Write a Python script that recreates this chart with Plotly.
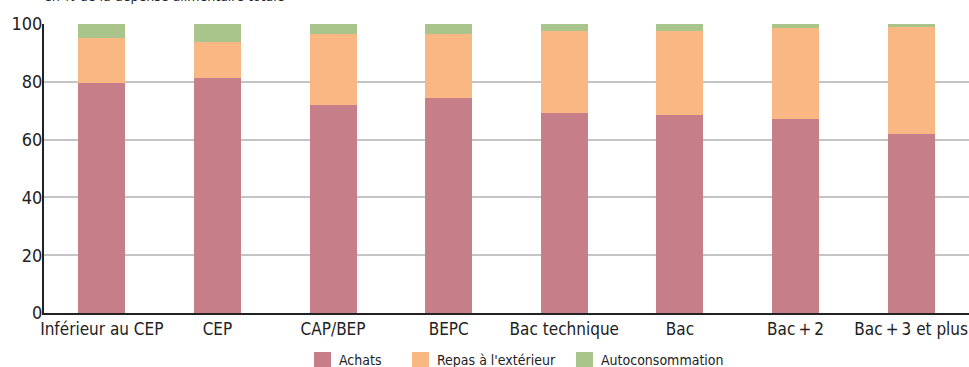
import plotly.graph_objects as go

categories = ["Inférieur au CEP", "CEP", "CAP/BEP", "BEPC", "Bac technique",
              "Bac", "Bac+2", "Bac+3 et plus"]
tick_labels = ["Inférieur au CEP", "CEP", "CAP/BEP", "BEPC", "Bac technique",
               "Bac", "Bac\u2009+\u20092", "Bac\u2009+\u20093 et plus"]
achats = [79.7, 81.4, 72.1, 74.3, 69.3, 68.6, 67.3, 62.1]
repas = [15.6, 12.5, 24.5, 22.3, 28.4, 29.1, 31.2, 37.0]
autoconso = [4.7, 6.1, 3.4, 3.4, 2.3, 2.3, 1.5, 0.9]

series_names = ["Achats", "Repas à l'extérieur", "Autoconsommation"]
series_colors = ["#c67f88", "#f9b784", "#a9c58b"]

FONT = "DejaVu Sans Condensed, Liberation Sans, sans-serif"
W, H = 969, 367
ML, MR, MT, MB = 44, 0, 24, 54
PW, PH = W - ML - MR, H - MT - MB


def px_x(px):
    return (px - ML) / PW


def px_y(py):
    return (H - MB - py) / PH


fig = go.Figure()
for name, vals, color in zip(series_names, [achats, repas, autoconso], series_colors):
    fig.add_trace(go.Bar(
        x=categories, y=vals, name=name,
        marker=dict(color=color, line=dict(width=0)),
        width=0.406, showlegend=False,
    ))

# legend row below the axis: colour squares followed by labels
legend_left = [314, 412, 576]
shapes = []
annotations = [dict(
    text="en % de la dépense alimentaire totale",
    xref="paper", yref="paper", x=0, y=1, xanchor="left", yanchor="bottom",
    xshift=-2, yshift=18, showarrow=False,
    font=dict(family=FONT, size=14, color="#222222"),
)]
for left, name, color in zip(legend_left, series_names, series_colors):
    shapes.append(dict(
        type="rect", xref="paper", yref="paper",
        x0=px_x(left), x1=px_x(left + 17), y0=px_y(368), y1=px_y(352),
        fillcolor=color, line=dict(width=0), layer="above",
    ))
    annotations.append(dict(
        text=name, xref="paper", yref="paper",
        x=px_x(left + 23), y=px_y(359.5), xanchor="left", yanchor="middle",
        showarrow=False, font=dict(family=FONT, size=14, color="#222222"),
    ))

fig.update_layout(
    barmode="stack",
    width=W, height=H,
    margin=dict(l=ML, r=MR, t=MT, b=MB),
    plot_bgcolor="white", paper_bgcolor="white",
    font=dict(family=FONT, size=17, color="#222222"),
    showlegend=False,
    xaxis=dict(
        tickmode="array", tickvals=categories, ticktext=tick_labels,
        range=[-0.5, 7.5], automargin=False,
        showline=True, linecolor="#222222", linewidth=2,
        showgrid=False, ticks="", tickfont=dict(size=17),
    ),
    yaxis=dict(
        range=[0, 100], tickvals=[0, 20, 40, 60, 80, 100],
        showline=True, linecolor="#222222", linewidth=2, automargin=False,
        showgrid=True, gridcolor="#c4c4c4", gridwidth=1.5,
        ticks="", ticklen=0, tickfont=dict(size=18), ticklabelstandoff=-4,
        zeroline=False,
    ),
    shapes=shapes,
    annotations=annotations,
)

fig.write_html("out.html")
